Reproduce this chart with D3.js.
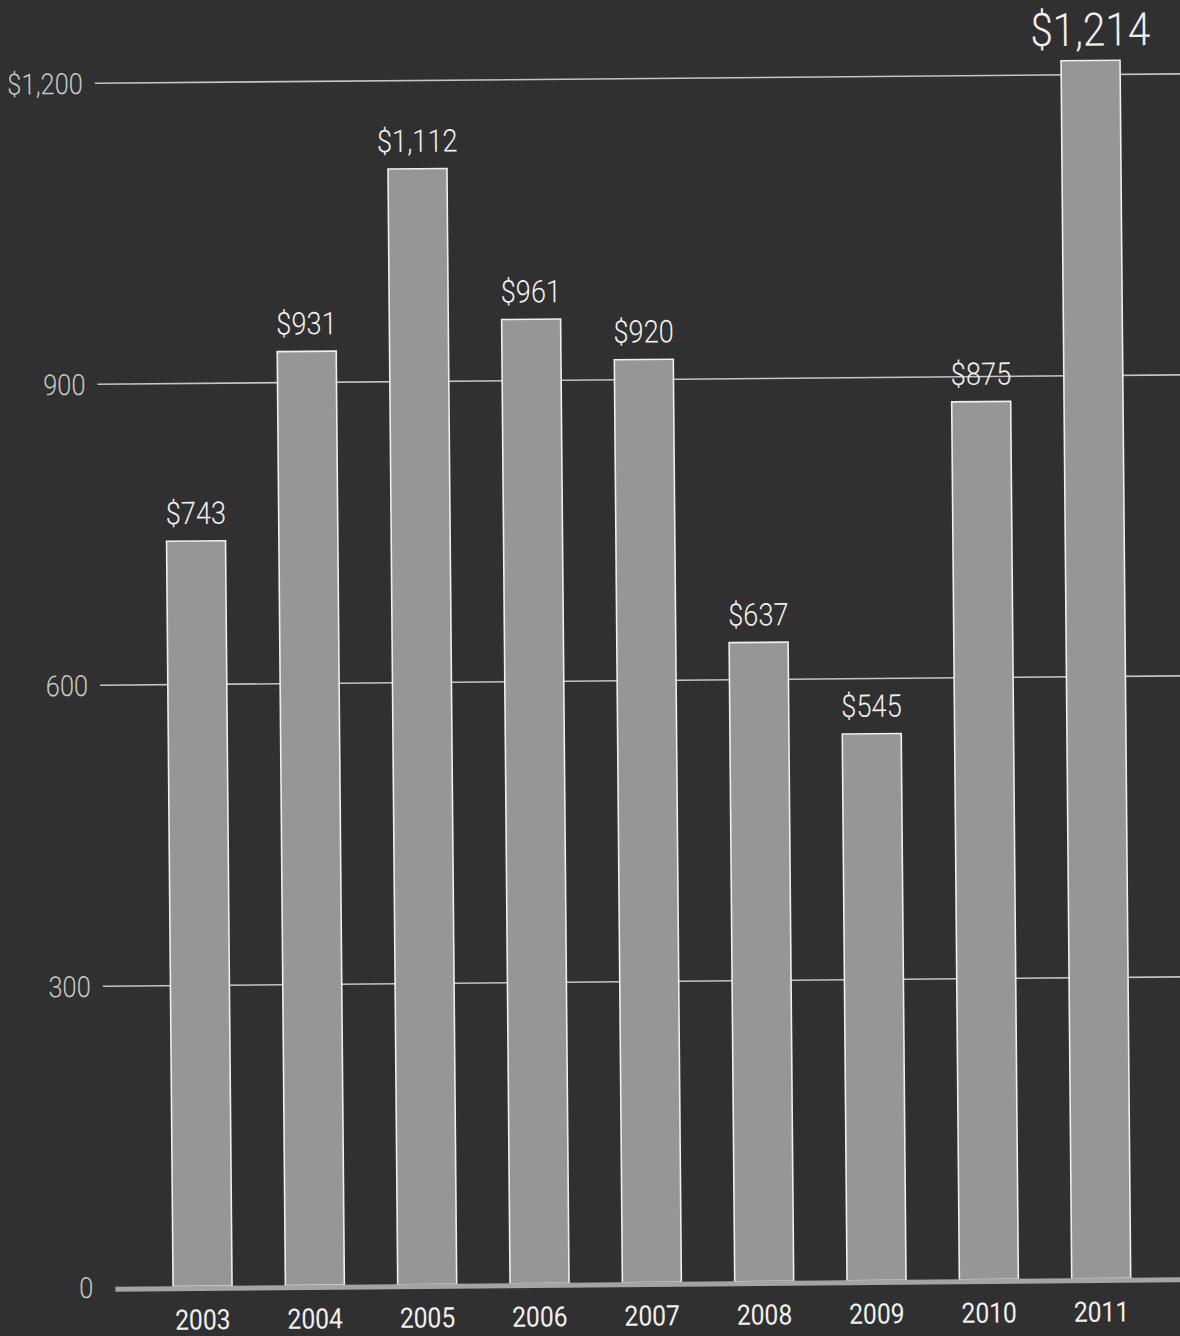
<!DOCTYPE html>
<html><head><meta charset="utf-8">
<script src="https://cdn.jsdelivr.net/npm/d3@7/dist/d3.min.js"></script>
<style>html,body{margin:0;padding:0;background:#303030;}svg{display:block;}</style>
</head><body>
<script>
const years = ["2003","2004","2005","2006","2007","2008","2009","2010","2011"];
const values = [743, 931, 1112, 961, 920, 637, 545, 875, 1214];
const valueLabels = ["$743","$931","$1,112","$961","$920","$637","$545","$875","$1,214"];
const tickValues = [0, 300, 600, 900, 1200];
const tickLabels = ["0","300","600","900","$1,200"];

const W = 1180, H = 1336;
const font = "Roboto,'Liberation Sans',sans-serif";
const SX = 0.88;
const svg = d3.select("body").append("svg").attr("width", W).attr("height", H);
svg.append("rect").attr("width", W).attr("height", H).attr("fill", "#303030");

const g = svg.append("g").attr("transform", "rotate(-0.5,590,668)");

const x = d3.scaleBand().domain(years).range([141, 1152]).paddingInner(0.475).paddingOuter(0.2375);
const y = d3.scaleLinear().domain([0, 1200]).range([1283, 79]);

// gridlines
g.selectAll("line.grid").data(tickValues.filter(d => d > 0)).join("line")
  .attr("x1", 100).attr("x2", 1200)
  .attr("y1", d => y(d)).attr("y2", d => y(d))
  .attr("stroke", "#c4c4c4").attr("stroke-width", 1.6);

// y tick labels
g.selectAll("text.ytick").data(tickValues).join("text")
  .attr("transform", d => `translate(88,${y(d)}) scale(${SX},1)`)
  .attr("dy", "0.36em").attr("text-anchor", "end")
  .attr("fill", "#c8c8c8").attr("font-family", font).attr("font-weight", 300).attr("font-size", 29)
  .text((d, i) => tickLabels[i]);

// bars
g.selectAll("rect.bar").data(values).join("rect")
  .attr("x", (d, i) => x(years[i])).attr("width", x.bandwidth())
  .attr("y", d => y(d)).attr("height", d => y(0) - y(d))
  .attr("fill", "#969696").attr("stroke", "#eeeeee").attr("stroke-width", 1.6);

// baseline
g.append("line").attr("x1", 110).attr("x2", 1200).attr("y1", y(0) + 2).attr("y2", y(0) + 2)
  .attr("stroke", "#a4a4a4").attr("stroke-width", 5);

// value labels
g.selectAll("text.val").data(values).join("text")
  .attr("transform", (d, i) => `translate(${x(years[i]) + x.bandwidth() / 2},${y(d) - (i === values.length - 1 ? 15 : 17)}) scale(${SX},1)`)
  .attr("text-anchor", "middle").attr("fill", "#f0f0f0")
  .attr("font-family", font).attr("font-weight", 300)
  .attr("font-size", (d, i) => i === values.length - 1 ? 46 : 31)
  .text((d, i) => valueLabels[i]);

// year labels
g.selectAll("text.year").data(years).join("text")
  .attr("transform", d => `translate(${x(d) + x.bandwidth() / 2},1326) scale(${SX},1)`)
  .attr("text-anchor", "middle").attr("fill", "#f0f0f0")
  .attr("font-family", font).attr("font-weight", 400).attr("font-size", 28)
  .text(d => d);
</script>
</body></html>
